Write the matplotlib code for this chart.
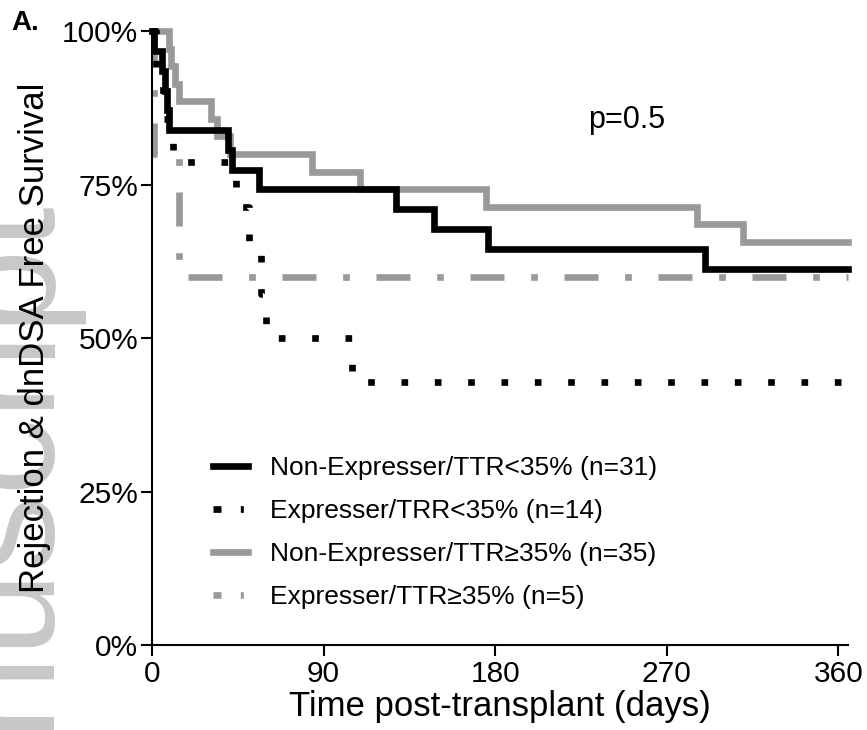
import matplotlib
matplotlib.use("Agg")
import matplotlib.pyplot as plt
from matplotlib.lines import Line2D

plt.rcParams['font.family'] = ['Liberation Sans', 'DejaVu Sans']

# Kaplan-Meier step data (day, % free survival)
t_ne_lo = [0, 1, 5, 7, 8, 9, 40, 42, 56, 128, 148, 176, 290]
s_ne_lo = [100, 96.8, 93.5, 90.3, 87.1, 83.9, 80.6, 77.4, 74.2, 71.0, 67.7, 64.5, 61.3]

t_ex_lo = [0, 2, 6, 11, 44, 51, 57, 60, 105]
s_ex_lo = [100, 92.9, 85.7, 78.6, 71.4, 64.3, 57.1, 50.0, 42.9]

t_ne_hi = [0, 9, 10, 12, 14, 31, 34, 41, 84, 109, 175, 286, 310]
s_ne_hi = [100, 97.1, 94.3, 91.4, 88.6, 85.7, 82.9, 80.0, 77.1, 74.3, 71.4, 68.6, 65.7]

t_ex_hi = [0, 1, 14]
s_ex_hi = [100, 80, 60]

t_end = 365
labels = ["Non-Expresser/TTR<35% (n=31)", "Expresser/TRR<35% (n=14)",
          "Non-Expresser/TTR\u226535% (n=35)", "Expresser/TTR\u226535% (n=5)"]
xticks = [0, 90, 180, 270, 360]
yticks = [0, 25, 50, 75, 100]

black = '#000000'
grey = '#999999'
lw = 4.8

fig = plt.figure(figsize=(8.67, 7.3), dpi=100)
ax = fig.add_axes([0.1753, 0.1164, 0.978 - 0.1753, 0.9575 - 0.1164])

def km(t, s):
    return t + [t_end], s + [s[-1]]

x, y = km(t_ex_hi, s_ex_hi)
ax.step(x, y, where='post', color=grey, lw=lw, ls=(0, (5.1, 4.0, 1.0, 4.0)),
        dash_capstyle='butt', clip_on=False)
x, y = km(t_ne_hi, s_ne_hi)
ax.step(x, y, where='post', color=grey, lw=lw, clip_on=False, solid_joinstyle='miter')
x, y = km(t_ne_lo, s_ne_lo)
ax.step(x, y, where='post', color=black, lw=lw, clip_on=False, solid_joinstyle='miter')
x, y = km(t_ex_lo, s_ex_lo)
ax.step(x, y, where='post', color=black, lw=lw, ls=(0, (1.0, 4.0)),
        dash_capstyle='butt', clip_on=False)

ax.set_xlim(0, t_end)
ax.set_ylim(0, 100)
ax.set_xticks(xticks)
ax.set_yticks(yticks)
ax.set_yticklabels([f"{v}%" for v in yticks])
ax.tick_params(labelsize=21.5, length=8, width=1.5, direction='out')
ax.tick_params(axis='x', pad=3)
ax.tick_params(axis='y', pad=2)
for sp in ['top', 'right']:
    ax.spines[sp].set_visible(False)
for sp in ['left', 'bottom']:
    ax.spines[sp].set_linewidth(1.5)

ax.set_xlabel("Time post-transplant (days)", fontsize=25, labelpad=1)
ax.set_ylabel("Rejection & dnDSA Free Survival", fontsize=25, labelpad=8)

ax.text(248.7, 85.5, "p=0.5", fontsize=22, ha='center', va='center')
fig.text(0.013, 0.968, "A.", fontsize=20, fontweight='bold', ha='left', va='center')

# watermark
fig.text(-0.075, 0.0, "nuscript", fontsize=110, color='#c8c8c8', rotation=90,
         ha='left', va='bottom', zorder=-1)

dash_leg = (0, (1.2, 2.9, 0.45, 12))
handles = [Line2D([], [], color=black, lw=lw),
           Line2D([], [], color=black, lw=lw, ls=dash_leg, dash_capstyle='butt'),
           Line2D([], [], color=grey, lw=lw),
           Line2D([], [], color=grey, lw=lw, ls=dash_leg, dash_capstyle='butt')]
ax.legend(handles, labels, loc='upper left', bbox_to_anchor=(0.073, 0.325),
          frameon=False, fontsize=19, handlelength=1.33, handletextpad=0.8,
          labelspacing=0.72, borderaxespad=0)

fig.savefig("out.png", dpi=100)
